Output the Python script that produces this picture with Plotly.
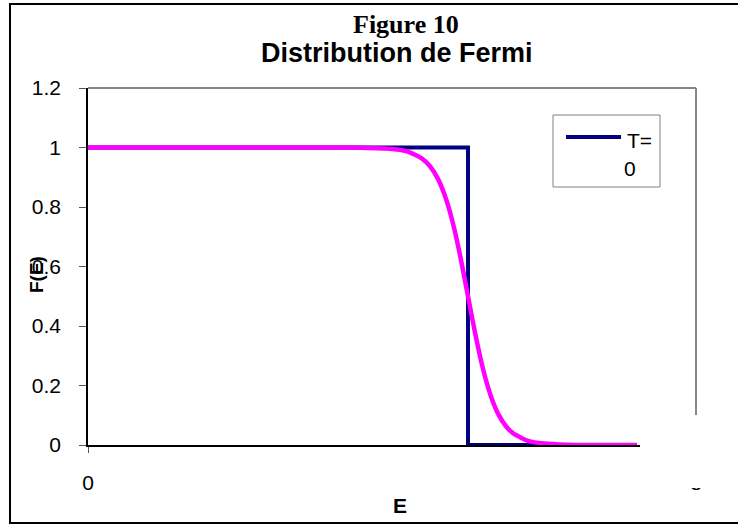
import plotly.graph_objects as go

# ---- data ----
E_T0 = [0, 5, 5, 7.22]
F_T0 = [1, 1, 0, 0]

E_T = [0, 1, 2, 3, 3.6, 4.0, 4.2, 4.4, 4.5, 4.6, 4.7, 4.8, 4.9, 5.0,
       5.1, 5.2, 5.3, 5.4, 5.5, 5.6, 5.8, 6.0, 6.3, 6.6, 7.22]
F_T = [1, 1, 1, 1, 0.999, 0.995, 0.987, 0.962, 0.937, 0.897, 0.835, 0.747,
       0.632, 0.5, 0.368, 0.253, 0.165, 0.103, 0.063, 0.038, 0.013, 0.005,
       0.001, 0, 0]

y_ticks = [0, 0.2, 0.4, 0.6, 0.8, 1, 1.2]
x_tick_vals = [0, 8]
x_tick_text = ["0", "8"]

W, H = 738, 525
L, R, T, B = 88, 42, 88, 80
PW, PH = W - L - R, H - T - B


def px(x):
    return (x - L) / PW


def py(y):
    return (H - B - y) / PH


fig = go.Figure()
fig.add_trace(go.Scatter(x=E_T0, y=F_T0, mode="lines", name="T=0",
                         line=dict(color="#000080", width=4),
                         showlegend=False))
fig.add_trace(go.Scatter(x=E_T, y=F_T, mode="lines", name="T>0",
                         line=dict(color="#FF00FF", width=4.5, shape="spline",
                                   smoothing=0.6),
                         showlegend=False))

shapes = []
# outer chart border
shapes.append(dict(type="rect", xref="paper", yref="paper",
                   x0=px(10), x1=px(742), y0=py(523), y1=py(4),
                   line=dict(color="#000000", width=2), layer="below"))
# plot area top and right border (grey)
shapes.append(dict(type="line", xref="paper", yref="paper",
                   x0=0, x1=1, y0=1, y1=1,
                   line=dict(color="#868686", width=2)))
shapes.append(dict(type="line", xref="paper", yref="paper",
                   x0=1, x1=1, y0=1, y1=py(415),
                   line=dict(color="#868686", width=2)))
# white mask over lower right corner
shapes.append(dict(type="rect", xref="paper", yref="paper",
                   x0=px(640), x1=px(736), y0=py(488), y1=py(416),
                   line=dict(width=0), fillcolor="white", layer="above"))
# legend box
shapes.append(dict(type="rect", xref="paper", yref="paper",
                   x0=px(553), x1=px(660), y0=py(187), y1=py(115),
                   line=dict(color="#808080", width=1), fillcolor="white",
                   layer="above"))
shapes.append(dict(type="line", xref="paper", yref="paper",
                   x0=px(566), x1=px(621), y0=py(137), y1=py(137),
                   line=dict(color="#000080", width=4), layer="above"))


def ann(text, x, y, size, family="Liberation Sans", angle=0, xanchor="center"):
    return dict(text=text, x=px(x), y=py(y), xref="paper", yref="paper",
                xanchor=xanchor, yanchor="middle", showarrow=False,
                textangle=angle,
                font=dict(family=family, size=size, color="black"))


annotations = [
    ann("<b>Figure 10</b>", 406, 25, 26, family="Liberation Serif"),
    ann("<b>Distribution de Fermi</b>", 397, 53, 27),
    ann("<b>F(E)</b>", 36, 275, 19, angle=-90),
    ann("<b>E</b>", 400, 505, 21),
    ann("T=", 625, 140, 21, xanchor="left"),
    ann("0", 630, 168, 21),
]

fig.update_layout(
    width=W, height=H,
    margin=dict(l=L, r=R, t=T, b=B, pad=0),
    paper_bgcolor="white", plot_bgcolor="white",
    font=dict(family="Liberation Sans", size=21, color="black"),
    showlegend=False,
    shapes=shapes,
    annotations=annotations,
    xaxis=dict(range=[0, 8], tickvals=x_tick_vals, ticktext=x_tick_text,
               showgrid=False, zeroline=False, showline=True,
               linecolor="black", linewidth=1.5, ticks="outside",
               ticklen=6, tickcolor="#555555", ticklabelstandoff=12),
    yaxis=dict(range=[0, 1.2], tickvals=y_ticks, showgrid=False,
               zeroline=False, showline=True, linecolor="black",
               linewidth=1.5, ticks="outside", ticklen=7,
               tickcolor="#555555", ticklabelstandoff=14),
)

fig.write_html("out.html", config={"displayModeBar": False},
               post_script="document.body.style.margin='0';"
                           "document.body.style.overflow='hidden';")
